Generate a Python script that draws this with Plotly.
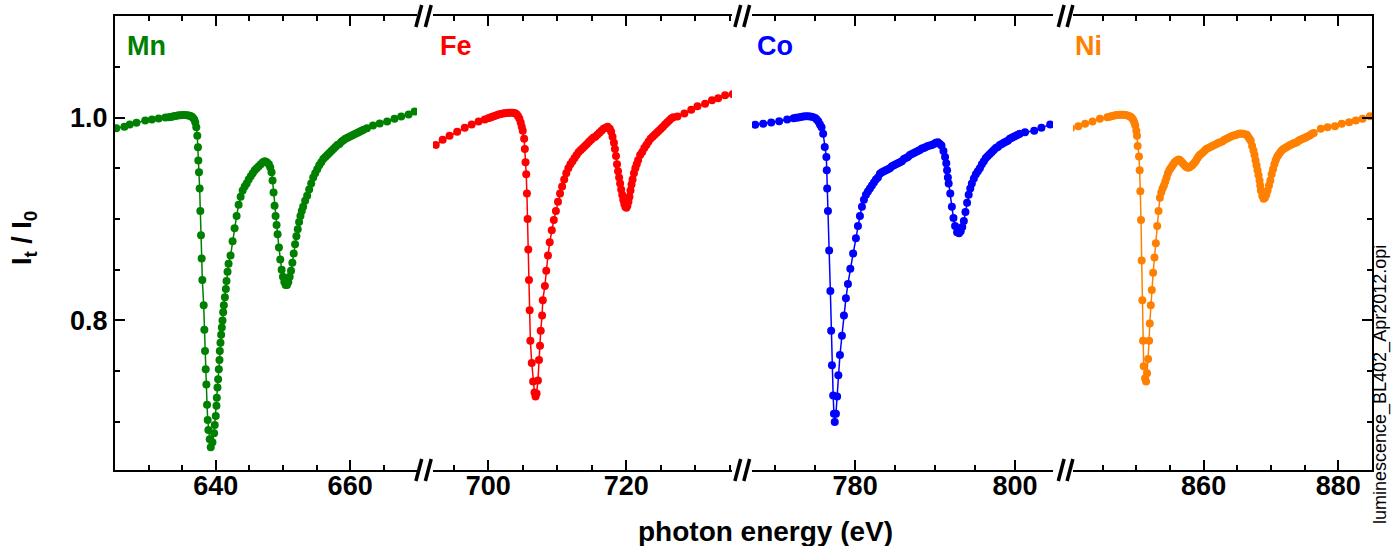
import plotly.graph_objects as go

# ---------------- data, (photon energy eV, I_t/I_0) ----------------
mn_data = [
    (625.2, .9895), (626.4, .991), (627.2, .993), (628.2, .9948), (629.5, .997), (630.5, .998), (631.5, .999),
    (632.5, 1.000), (633.0, 1.0003), (633.3, 1.0006), (633.6, 1.001), (633.9, 1.0014), (634.2, 1.0018),
    (634.5, 1.0021), (634.8, 1.0023), (635.1, 1.0024), (635.4, 1.0024), (635.7, 1.0023), (636.0, 1.0019),
    (636.2, 1.0014), (636.4, 1.001), (636.6, .9998), (636.8, .998), (636.95, .995), (637.1, .9905),
    (637.25, .982), (637.35, .9707), (637.4, .9576), (637.5, .946), (637.6, .930), (637.7, .908), (637.8, .884),
    (637.9, .861), (638.0, .840), (638.2, .815), (638.3, .791), (638.4, .770), (638.5, .752), (638.6, .737),
    (638.7, .717), (638.8, .702), (638.9, .692), (639.1, .683), (639.25, .675), (639.5, .680), (639.75, .689),
    (639.85, .697), (640.0, .706), (640.1, .716), (640.15, .724), (640.25, .734), (640.35, .742), (640.45, .752),
    (640.55, .761), (640.6, .770), (640.7, .778), (640.8, .786), (640.9, .793), (641.0, .800), (641.1, .808),
    (641.2, .815), (641.35, .823), (641.5, .831), (641.6, .839), (641.75, .848), (641.9, .856), (642.2, .864),
    (642.5, .878), (642.8, .891), (643.1, .903), (643.4, .914), (643.7, .922), (644.0, .928), (644.3, .932),
    (644.6, .935), (644.9, .939), (645.2, .942), (645.5, .945), (645.8, .948), (646.1, .950), (646.4, .952),
    (646.7, .954), (647.0, .956), (647.3, .957), (647.6, .956), (647.9, .954), (648.1, .951), (648.3, .946),
    (648.45, .938), (648.6, .926), (648.75, .913), (648.9, .903), (649.05, .894), (649.2, .885), (649.4, .872),
    (649.6, .860), (649.8, .850), (650.0, .843), (650.2, .838), (650.4, .835), (650.6, .835), (650.8, .838),
    (651.0, .843), (651.2, .849), (651.4, .857), (651.6, .866), (651.8, .875), (652.0, .883), (652.2, .890),
    (652.4, .897), (652.6, .903), (652.8, .908), (653.0, .912), (653.3, .918), (653.6, .923), (653.9, .929),
    (654.2, .935), (654.5, .941), (654.8, .945), (655.1, .949), (655.4, .953), (655.7, .956), (656.0, .959),
    (656.3, .961), (656.6, .963), (656.9, .965), (657.2, .967), (657.5, .969), (657.8, .971), (658.1, .973),
    (658.4, .974), (658.7, .976), (659.0, .9775), (659.3, .979), (659.6, .980), (659.9, .981), (660.2, .982),
    (660.5, .983), (660.8, .984), (661.1, .985), (661.4, .986), (661.7, .987), (662.0, .988), (662.5, .9895),
    (663.4, .992), (664.4, .994), (665.5, .996), (666.6, .9987), (667.6, 1.001), (668.7, 1.003), (669.6, 1.006),
]

fe_data = [
    (692.4, .973), (693.4, .978), (694.4, .982), (695.5, .986), (696.6, .990), (697.6, .993), (698.6, .996),
    (699.5, .998), (700.0, .9992), (700.3, 1.0), (700.6, 1.0007), (700.9, 1.0015), (701.2, 1.0023),
    (701.5, 1.003), (701.8, 1.0035), (702.1, 1.0039), (702.4, 1.0042), (702.7, 1.0044), (703.0, 1.0046),
    (703.3, 1.0047), (703.6, 1.0046), (703.9, 1.0042), (704.1, 1.0032), (704.3, 1.0015), (704.5, .999),
    (704.7, .995), (704.85, .991), (705.0, .987), (705.2, .979), (705.3, .969), (705.4, .956), (705.5, .944),
    (705.6, .925), (705.7, .900), (705.8, .870), (705.9, .840), (706.0, .810), (706.1, .780), (706.3, .758),
    (706.5, .740), (706.7, .729), (706.85, .725), (707.0, .728), (707.2, .741), (707.35, .761), (707.5, .775),
    (707.6, .790), (707.8, .805), (707.9, .820), (708.2, .834), (708.4, .849), (708.65, .864), (708.9, .877),
    (709.2, .889), (709.5, .899), (709.8, .908), (710.1, .917), (710.4, .925), (710.7, .932), (711.0, .939),
    (711.3, .945), (711.6, .950), (711.9, .954), (712.2, .957), (712.5, .960), (712.8, .963), (713.1, .966),
    (713.4, .968), (713.7, .970), (714.0, .972), (714.3, .974), (714.6, .976), (714.9, .978), (715.2, .980),
    (715.5, .981), (715.8, .983), (716.1, .985), (716.4, .987), (716.7, .989), (717.0, .990), (717.3, .991),
    (717.6, .989), (717.8, .986), (718.0, .981), (718.2, .975), (718.35, .969), (718.5, .962), (718.65, .954),
    (718.8, .947), (718.95, .941), (719.1, .935), (719.25, .929), (719.4, .924), (719.55, .919), (719.7, .915),
    (719.85, .912), (720.0, .911), (720.15, .913), (720.3, .917), (720.45, .922), (720.6, .928), (720.75, .934),
    (720.9, .939), (721.1, .945), (721.3, .950), (721.5, .954), (721.7, .958), (722.0, .963), (722.3, .966),
    (722.6, .970), (722.9, .973), (723.2, .976), (723.5, .979), (723.8, .981), (724.1, .983), (724.4, .985),
    (724.7, .987), (725.0, .989), (725.3, .991), (725.6, .993), (725.9, .995), (726.2, .997), (726.5, .999),
    (726.8, 1.0003), (727.4, 1.001), (728.4, 1.004), (729.4, 1.0076), (730.3, 1.011), (731.4, 1.0135),
    (732.4, 1.017), (733.3, 1.019), (734.3, 1.022), (735.4, 1.023),
]

co_data = [
    (767.5, .9928), (768.5, .9938), (769.5, .995), (770.5, .9964), (771.5, .998), (772.3, .9993), (772.6, .9997),
    (772.9, 1.0001), (773.2, 1.0005), (773.5, 1.0009), (773.8, 1.0012), (774.1, 1.0013), (774.4, 1.0011),
    (774.7, 1.0005), (775.0, .9995), (775.2, .998), (775.4, .996), (775.6, .993), (775.8, .9905), (776.0, .984),
    (776.2, .971), (776.4, .961), (776.45, .948), (776.5, .930), (776.6, .908), (776.75, .869), (776.9, .829),
    (777.0, .790), (777.1, .756), (777.25, .726), (777.35, .708), (777.45, .700), (777.6, .708), (777.75, .725),
    (777.9, .746), (778.1, .766), (778.35, .785), (778.6, .805), (778.85, .822), (779.1, .836), (779.4, .851),
    (779.75, .866), (780.1, .881), (780.35, .893), (780.6, .903), (780.85, .912), (781.1, .919), (781.35, .924),
    (781.6, .927), (781.85, .930), (782.1, .933), (782.35, .936), (782.6, .939), (782.85, .941), (783.1, .9445),
    (783.35, .946), (783.6, .947), (783.85, .948), (784.1, .949), (784.35, .950), (784.6, .952), (784.85, .953),
    (785.1, .954), (785.35, .955), (785.6, .956), (785.85, .957), (786.1, .959), (786.35, .960), (786.6, .961),
    (786.85, .963), (787.1, .964), (787.35, .965), (787.6, .966), (787.85, .967), (788.1, .968), (788.35, .9695),
    (788.6, .970), (788.85, .971), (789.1, .972), (789.35, .9725), (789.6, .973), (789.85, .974), (790.1, .9752),
    (790.35, .9757), (790.6, .974), (790.8, .9724), (791.05, .967), (791.25, .961), (791.4, .955), (791.5, .948),
    (791.6, .941), (791.7, .935), (791.9, .925), (792.1, .912), (792.3, .901), (792.5, .893), (792.75, .887),
    (793.0, .886), (793.2, .888), (793.4, .892), (793.6, .898), (793.8, .907), (794.0, .916), (794.2, .924),
    (794.4, .930), (794.6, .935), (794.85, .940), (795.1, .944), (795.35, .947), (795.6, .950), (795.85, .954),
    (796.1, .957), (796.35, .960), (796.6, .962), (796.85, .964), (797.1, .966), (797.35, .968), (797.6, .970),
    (797.85, .971), (798.1, .973), (798.35, .974), (798.6, .975), (798.85, .976), (799.1, .977), (799.35, .979),
    (799.6, .980), (799.85, .981), (800.1, .982), (800.35, .983), (800.6, .984), (801.25, .9855), (802.4, .987),
    (803.3, .990), (804.4, .993),
]

ni_data = [
    (840.3, .9895), (841.4, .9914), (842.4, .9938), (843.5, .996), (844.6, .9987), (845.7, 1.0003),
    (846.0, 1.0008), (846.3, 1.0013), (846.6, 1.0018), (846.9, 1.0021), (847.2, 1.0024), (847.5, 1.0026),
    (847.8, 1.0027), (848.1, 1.0026), (848.4, 1.0024), (848.7, 1.002), (849.0, 1.0012), (849.2, 1.0005),
    (849.4, .999), (849.55, .9975), (849.7, .995), (849.85, .992), (850.0, .987), (850.1, .982), (850.2, .972),
    (850.4, .9616), (850.5, .948), (850.6, .9274), (850.7, .899), (850.8, .859), (850.9, .820), (851.0, .780),
    (851.1, .755), (851.3, .743), (851.45, .740), (851.6, .748), (851.75, .762), (851.9, .780), (852.0, .797),
    (852.15, .815), (852.3, .830), (852.5, .847), (852.7, .862), (852.9, .876), (853.1, .893), (853.3, .908),
    (853.5, .921), (853.7, .926), (853.9, .930), (854.1, .933), (854.3, .937), (854.5, .941), (854.7, .945),
    (854.9, .948), (855.1, .950), (855.3, .952), (855.5, .954), (855.7, .956), (855.9, .957), (856.1, .958),
    (856.3, .9585), (856.5, .958), (856.7, .9565), (856.9, .955), (857.1, .9535), (857.3, .952), (857.5, .951),
    (857.7, .9505), (857.9, .951), (858.1, .952), (858.3, .953), (858.5, .9545), (858.7, .956), (858.9, .958),
    (859.1, .960), (859.3, .962), (859.5, .9635), (859.8, .965), (860.1, .967), (860.4, .969), (860.7, .970),
    (861.0, .971), (861.3, .972), (861.6, .973), (861.9, .974), (862.2, .975), (862.5, .9755), (862.8, .9765),
    (863.1, .978), (863.4, .979), (863.7, .980), (864.0, .981), (864.3, .982), (864.6, .9825), (864.9, .983),
    (865.2, .984), (865.5, .9842), (865.8, .984), (866.1, .9836), (866.4, .983), (866.6, .981), (866.8, .979),
    (867.0, .977), (867.2, .972), (867.4, .9675), (867.55, .963), (867.7, .958), (867.85, .953), (868.0, .948),
    (868.15, .943), (868.3, .938), (868.4, .933), (868.5, .928), (868.7, .923), (868.9, .920), (869.1, .921),
    (869.3, .924), (869.5, .928), (869.7, .933), (869.9, .938), (870.1, .944), (870.3, .949), (870.5, .954),
    (870.7, .958), (870.9, .961), (871.1, .963), (871.35, .9655), (871.6, .9675), (871.85, .969), (872.1, .970),
    (872.35, .971), (872.6, .972), (872.85, .973), (873.1, .9737), (873.35, .9745), (873.6, .975), (873.85, .9757),
    (874.1, .977), (874.35, .978), (874.6, .9785), (874.85, .9795), (875.1, .980), (875.35, .981), (875.6, .9818),
    (875.85, .9828), (876.1, .984), (876.35, .9848), (877.4, .989), (878.4, .9905), (879.5, .9914), (880.5, .9938),
    (881.6, .9954), (882.6, .997), (883.6, .9987), (884.7, 1.0013),
]

elements = ["Mn", "Fe", "Co", "Ni"]
colors = ["#008000", "#ff0000", "#0000ff", "#ff8000"]
x_ranges = [[625.0, 669.95], [692.0, 735.3], [767.1, 804.75], [840.6, 885.0]]
y_range = [0.6527, 1.1]

# ---------------- geometry (page pixels; page body margin removed by post_script) ----------------
FW, FH = 1391, 546
PL, PT, PR, PB = 115, 16, 1372, 470          # plot area in pixels
PW, PH = PR - PL, PB - PT


def px(x):
    return (x - PL) / PW


def py(y):
    return (PB - y) / PH


domains = [[px(115), px(417)], [px(433), px(732)], [px(752), px(1053)], [px(1073), px(1372)]]

fig = go.Figure()
for i, data in enumerate([mn_data, fe_data, co_data, ni_data]):
    xs = [p[0] for p in data]
    ys = [p[1] for p in data]
    sfx = "" if i == 0 else str(i + 1)
    fig.add_trace(go.Scatter(
        x=xs, y=ys, mode="lines+markers", name=elements[i],
        xaxis="x" + sfx, yaxis="y" + sfx,
        marker=dict(size=8, color=colors[i]),
        line=dict(color=colors[i], width=1.5),
        showlegend=False,
    ))

FONT = "Liberation Sans, Arial, Helvetica, sans-serif"
tickfont = dict(family=FONT, size=27, color="black", weight="bold")
layout = dict(
    width=FW, height=FH,
    margin=dict(l=PL, r=FW - PR, t=PT, b=FH - PB, pad=0),
    paper_bgcolor="white", plot_bgcolor="white",
    showlegend=False,
)
minor_common = dict(ticks="inside", ticklen=5, tickwidth=1.5, tickcolor="black")
for i in range(4):
    sfx = "" if i == 0 else str(i + 1)
    layout["xaxis" + sfx] = dict(
        domain=domains[i], range=x_ranges[i], anchor="y" + sfx,
        showline=True, linecolor="black", linewidth=2, mirror="ticks",
        ticks="inside", ticklen=10, tickwidth=1.5, tickcolor="black",
        dtick=20, tick0=0, ticklabelstandoff=-9,
        minor=dict(dtick=5, tick0=0, **minor_common),
        showgrid=False, zeroline=False, tickfont=tickfont,
    )
    ydict = dict(domain=[0, 1], range=y_range, anchor="x" + sfx, showgrid=False, zeroline=False)
    if i == 0:
        ydict.update(showline=True, linecolor="black", linewidth=2,
                     ticks="inside", ticklen=10, tickwidth=1.5, tickcolor="black",
                     dtick=0.2, tick0=0, tickformat=".1f",
                     minor=dict(dtick=0.05, tick0=0, **minor_common),
                     tickfont=tickfont)
    elif i == 3:
        ydict.update(side="right", showline=True, linecolor="black", linewidth=2,
                     ticks="inside", ticklen=10, tickwidth=1.5, tickcolor="black",
                     dtick=0.2, tick0=0, showticklabels=False,
                     minor=dict(dtick=0.05, tick0=0, **minor_common))
    else:
        ydict.update(visible=False)
    layout["yaxis" + sfx] = ydict

fig.update_layout(**layout)

# axis-break marks "//" at top and bottom
shapes = []
for c1, c2 in [(418.8, 428.3), (737.8, 746.7), (1061.2, 1070.0)]:
    for yax in (PB, PT):
        for c in (c1, c2):
            shapes.append(dict(type="line", xref="paper", yref="paper",
                               x0=px(c - 2.9), y0=py(yax + 11), x1=px(c + 2.9), y1=py(yax - 11),
                               line=dict(color="black", width=3.5)))
fig.update_layout(shapes=shapes)

# element labels
label_px = [125, 438, 755, 1073]
for i, name in enumerate(elements):
    fig.add_annotation(text="<b>%s</b>" % name, xref="paper", yref="paper",
                       x=px(label_px[i]), y=py(46), xanchor="left", yanchor="middle",
                       showarrow=False, font=dict(family=FONT, size=27, color=colors[i]))

# axis titles and file note
fig.add_annotation(text="<b>photon energy (eV)</b>", xref="paper", yref="paper",
                   x=px(765), y=py(531), xanchor="center", yanchor="middle", showarrow=False,
                   font=dict(family=FONT, size=28, color="black"))
fig.add_annotation(text="<b>I<sub>t</sub> / I<sub>0</sub></b>", xref="paper", yref="paper",
                   x=px(24), y=py(238), xanchor="center", yanchor="middle", showarrow=False,
                   textangle=-90, font=dict(family=FONT, size=27, color="black"))
fig.add_annotation(text="luminescence_BL402_Apr2012.opi", xref="paper", yref="paper",
                   x=px(1380), y=py(385), xanchor="center", yanchor="middle", showarrow=False,
                   textangle=-90, font=dict(family=FONT, size=18, color="black"))

fig.write_html(
    "out.html",
    config={"displayModeBar": False},
    post_script="document.body.style.margin='0';document.body.style.padding='0';"
                "document.body.style.overflow='hidden';",
)
